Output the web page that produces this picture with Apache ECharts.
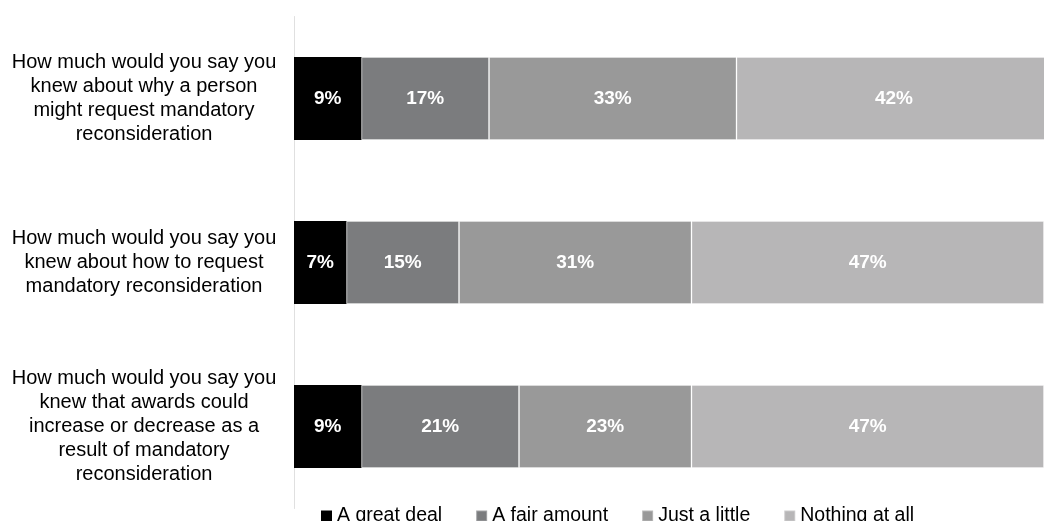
<!DOCTYPE html>
<html>
<head>
<meta charset="utf-8">
<script src="https://cdn.jsdelivr.net/npm/echarts@6/dist/echarts.min.js"></script>
<style>
  html, body { margin: 0; padding: 0; background: #ffffff; }
  #chart { width: 1044px; height: 521px; }
</style>
</head>
<body>
<div id="chart"></div>
<script>
// Survey questions (one stacked bar each, top to bottom)
const questions = [
  'How much would you say you\nknew about why a person\nmight request mandatory\nreconsideration',
  'How much would you say you\nknew about how to request\nmandatory reconsideration',
  'How much would you say you\nknew that awards could\nincrease or decrease as a\nresult of mandatory\nreconsideration'
];

// Response shares in percent, one array per answer option
const greatDeal = [9, 7, 9];
const fairAmount = [17, 15, 21];
const justALittle = [33, 31, 23];
const nothingAtAll = [42, 47, 47];

const seriesNames = ['A great deal', 'A fair amount', 'Just a little', 'Nothing at all'];
const seriesValues = [greatDeal, fairAmount, justALittle, nothingAtAll];
const seriesColors = ['#000000', '#7b7c7e', '#999999', '#b7b6b7'];

const FONT = '"Liberation Sans", Arial, sans-serif';

const chart = echarts.init(document.getElementById('chart'), null, { renderer: 'canvas' });

chart.setOption({
  animation: false,
  backgroundColor: '#ffffff',
  grid: { left: 294, right: 0, top: 16.5, bottom: 12.5, containLabel: false },
  xAxis: {
    type: 'value',
    min: 0,
    max: 100,
    show: false
  },
  yAxis: {
    type: 'category',
    data: questions,
    inverse: true,
    axisLine: { show: true, lineStyle: { color: '#e0e0e0', width: 1 } },
    axisTick: { show: false },
    axisLabel: {
      align: 'center',
      margin: 150,
      fontFamily: FONT,
      fontSize: 20,
      lineHeight: 24,
      color: '#000000'
    }
  },
  legend: {
    data: seriesNames,
    left: 321,
    top: 506,
    padding: 0,
    icon: 'rect',
    itemWidth: 11,
    itemHeight: 11,
    itemGap: 33,
    textStyle: { fontFamily: FONT, fontSize: 19.5, color: '#000000' }
  },
  series: seriesNames.map((name, i) => ({
    name: name,
    type: 'bar',
    stack: 'total',
    barWidth: 83,
    clip: false,
    data: seriesValues[i],
    itemStyle: {
      color: seriesColors[i],
      borderColor: 'rgba(255,255,255,0.3)',
      borderWidth: i === 0 ? 0 : 1
    },
    label: {
      show: true,
      position: 'inside',
      formatter: '{c}%',
      fontFamily: FONT,
      fontWeight: 'bold',
      fontSize: 19,
      color: '#ffffff'
    }
  }))
});
</script>
</body>
</html>
